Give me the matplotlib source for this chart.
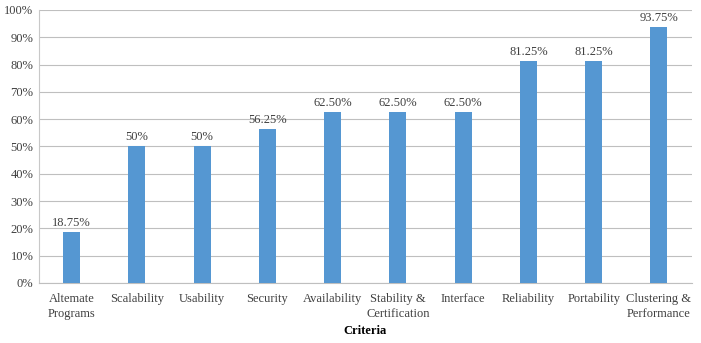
import matplotlib.pyplot as plt
import numpy as np
from matplotlib.ticker import PercentFormatter

# data
criteria = ['Altemate\nPrograms', 'Scalability', 'Usability', 'Security', 'Availability',
            'Stability &\nCertification', 'Interface', 'Reliability', 'Portability',
            'Clustering &\nPerformance']
scores = [18.75, 50, 50, 56.25, 62.50, 62.50, 62.50, 81.25, 81.25, 93.75]
value_labels = ['18.75%', '50%', '50%', '56.25%', '62.50%', '62.50%', '62.50%',
                '81.25%', '81.25%', '93.75%']

plt.rcParams['font.family'] = ['Liberation Serif', 'DejaVu Serif']

fig = plt.figure(figsize=(7.01, 3.43), dpi=100)
ax = fig.add_axes([0.0556, 0.175, 0.931, 0.796])

x = np.arange(len(criteria))
bars = ax.bar(x, scores, width=0.26, color='#5597d2', zorder=3)

for b, lab in zip(bars, value_labels):
    ax.text(b.get_x() + b.get_width() / 2, b.get_height() + 1.2, lab,
            ha='center', va='bottom', fontsize=9, color='#404040')

ax.set_xlim(-0.5, len(criteria) - 0.5)
ax.set_ylim(0, 100)
ax.set_yticks(np.arange(0, 101, 10))
ax.yaxis.set_major_formatter(PercentFormatter(decimals=0))
ax.set_xticks(x)
ax.set_xticklabels(criteria, fontsize=9, color='#404040', linespacing=1.35)
ax.tick_params(axis='y', labelsize=9, colors='#404040', length=0, pad=4)
ax.tick_params(axis='x', length=0, pad=7)

ax.grid(axis='y', color='#bfbfbf', linewidth=0.8, zorder=0)
for side in ['top', 'right']:
    ax.spines[side].set_visible(False)
ax.spines['left'].set_color('#c8c8c8')
ax.spines['bottom'].set_color('#bfbfbf')

ax.set_xlabel('Criteria', fontsize=9, fontweight='bold', labelpad=4)

fig.savefig('out.png', dpi=100)
